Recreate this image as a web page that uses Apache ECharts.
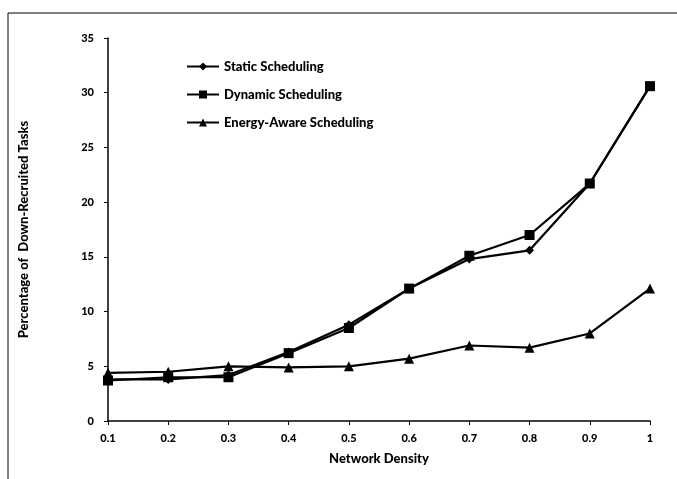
<!DOCTYPE html>
<html>
<head>
<meta charset="utf-8">
<script src="https://cdn.jsdelivr.net/npm/echarts@6/dist/echarts.min.js"></script>
<style>
  html, body { margin: 0; padding: 0; background: #fff; }
  #chart { width: 677px; height: 479px; }
</style>
</head>
<body>
<div id="chart"></div>
<script>
const densities = ['0.1', '0.2', '0.3', '0.4', '0.5', '0.6', '0.7', '0.8', '0.9', '1'];
const staticSched  = [3.8, 3.8, 4.2, 6.3, 8.8, 12.1, 14.8, 15.6, 21.7, 30.6];
const dynamicSched = [3.7, 4.0, 4.0, 6.2, 8.5, 12.1, 15.1, 17.0, 21.7, 30.6];
const energySched  = [4.4, 4.5, 5.0, 4.9, 5.0, 5.7, 6.9, 6.7, 8.0, 12.1];
const yTicks = [0, 5, 10, 15, 20, 25, 30, 35];

const font = 'Lato, "Open Sans", sans-serif';

const chart = echarts.init(document.getElementById('chart'));

const line = (name, data, symbol, size) => ({
    name: name,
    type: 'line',
    data: data,
    symbol: symbol,
    symbolSize: size,
    lineStyle: { color: '#000', width: 2.2 },
    itemStyle: { color: '#000' },
    animation: false
});

chart.setOption({
    animation: false,
    grid: { left: 108, right: 27, top: 38, bottom: 58 },
    legend: {
        orient: 'vertical',
        left: 181,
        top: 55,
        itemGap: 15,
        itemWidth: 32,
        itemHeight: 10,
        textStyle: { fontFamily: font, fontWeight: 900, fontSize: 13, color: '#000' },
        data: ['Static Scheduling', 'Dynamic Scheduling', 'Energy-Aware Scheduling']
    },
    xAxis: {
        type: 'category',
        data: densities,
        boundaryGap: false,
        name: 'Network Density',
        nameLocation: 'middle',
        nameGap: 31,
        nameTextStyle: { fontFamily: font, fontWeight: 900, fontSize: 13, color: '#000' },
        axisLine: { lineStyle: { color: '#000', width: 1.5 } },
        axisTick: { lineStyle: { color: '#000' }, length: 4 },
        axisLabel: { fontFamily: font, fontWeight: 900, fontSize: 11, color: '#000', margin: 12 },
        splitLine: { show: false }
    },
    yAxis: {
        type: 'value',
        min: 0,
        max: 35,
        interval: 5,
        name: 'Percentage of  Down-Recruited Tasks',
        nameLocation: 'middle',
        nameGap: 78,
        nameRotate: 90,
        nameTextStyle: { fontFamily: font, fontWeight: 900, fontSize: 13, color: '#000' },
        axisLine: { show: true, lineStyle: { color: '#000', width: 1.5 } },
        axisTick: { show: true, lineStyle: { color: '#000' }, length: 4 },
        axisLabel: {
            fontFamily: font, fontWeight: 900, fontSize: 11, color: '#000', margin: 14,
            formatter: v => yTicks.includes(v) ? String(v) : ''
        },
        splitLine: { show: false }
    },
    graphic: [
        { type: 'line', shape: { x1: 8, y1: 13, x2: 677, y2: 13 }, style: { stroke: '#000', lineWidth: 1 } },
        { type: 'line', shape: { x1: 8, y1: 13, x2: 8, y2: 479 }, style: { stroke: '#000', lineWidth: 1 } }
    ],
    series: [
        line('Static Scheduling', staticSched, 'diamond', 9),
        line('Dynamic Scheduling', dynamicSched, 'rect', 10),
        line('Energy-Aware Scheduling', energySched, 'triangle', 10)
    ]
});
</script>
</body>
</html>
